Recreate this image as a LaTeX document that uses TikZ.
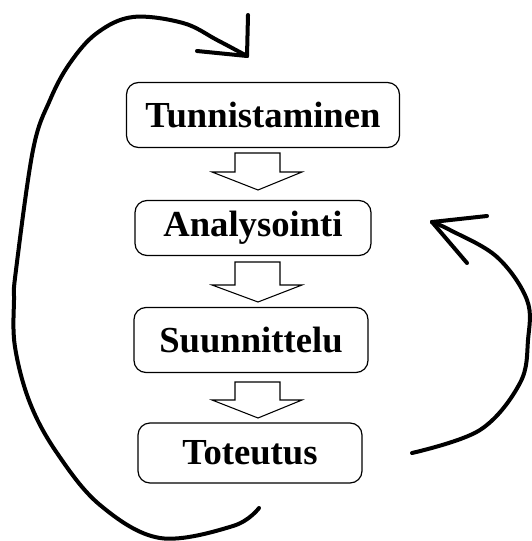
\documentclass[tikz,border=0pt]{standalone}
\usepackage{fontspec}
\setmainfont{Liberation Serif}
\usetikzlibrary{calc}
\begin{document}
\begin{tikzpicture}[x=0.75pt,y=-0.75pt,
  stagebox/.style={draw, line width=0.9pt, rounded corners=9pt, inner sep=0pt,
    font=\fontsize{27.5}{31}\selectfont\bfseries},
  loopline/.style={line width=3pt, line cap=round, line join=round},
  blockarrow/.style={draw, line width=0.8pt, fill=white}]
\useasboundingbox (0,0) rectangle (531,541);
% stages
\node[stagebox, minimum width=204.75pt, minimum height=48.75pt] (t) at (263,115) {Tunnistaminen};
\node[stagebox, minimum width=177pt, minimum height=41.25pt] (a) at (253,228) {Analysointi};
\node[stagebox, minimum width=175.5pt, minimum height=48.75pt] (s) at (251,340) {Suunnittelu};
\node[stagebox, minimum width=168pt, minimum height=45pt] (o) at (250,453) {Toteutus};
% block arrows
\newcommand\blockarr[3]{%
  \draw[blockarrow] (235,#1) -- (235,#2) -- (212,#2) -- (258,#3) -- (302,#2) -- (280,#2) -- (280,#1) -- cycle;}
\blockarr{153}{172}{190}
\blockarr{262}{285}{302}
\blockarr{382}{400}{418}
% left loop
\coordinate (ls) at (259,508);
\coordinate (le) at (247,56);
\draw[loopline] plot[smooth, tension=0.6] coordinates {
  (ls) (233,526) (160,538) (100,505) (57,453) (30,403) (15,347) (14,300) (16,270)
  (33,150) (50,100) (70,63) (97,33) (133,17) (183,23) (217,40) (le)};
\draw[loopline] (248,15) -- (le);
\draw[loopline] (197,51) -- (le);
% right loop
\coordinate (rs) at (412,453);
\coordinate (re) at (432,222);
\draw[loopline] plot[smooth, tension=0.6] coordinates {
  (rs) (480,430) (520,383) (528,340) (527,300) (497,257) (450,230) (re)};
\draw[loopline] (re) -- (487,216);
\draw[loopline] (re) -- (467,263);
\end{tikzpicture}
\end{document}
